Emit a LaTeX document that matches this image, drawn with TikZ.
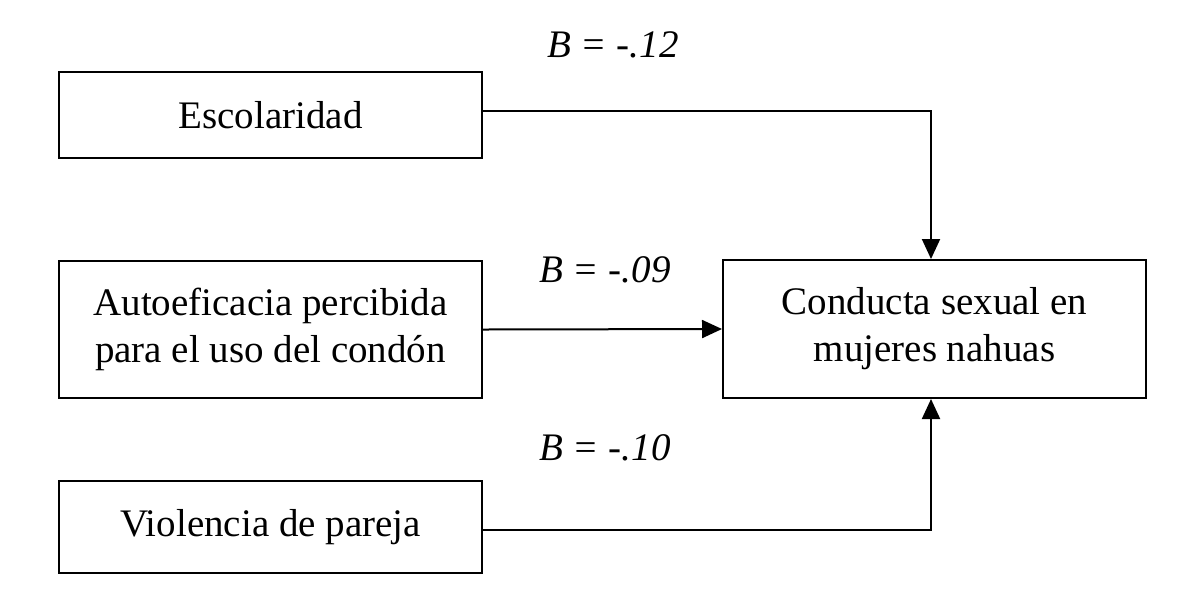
\documentclass[tikz,border=0pt]{standalone}
\usepackage{fontspec}
\setmainfont{Liberation Serif}
\usetikzlibrary{arrows.meta}
\tikzset{
  varbox/.style={draw=black, line width=1pt, rectangle, inner sep=0pt,
    minimum width=211.5pt, align=center,
    font=\fontsize{19.5}{23.5}\selectfont},
  coef/.style={font=\fontsize{19.5}{23.5}\selectfont\itshape, inner sep=0pt},
  link/.style={line width=1pt, -{Triangle[length=10pt,width=9pt]}}
}
\begin{document}
\begin{tikzpicture}[x=0.5pt,y=-0.5pt]
\useasboundingbox (0,0) rectangle (1181,596);
\node[varbox, minimum height=43pt] (esc) at (270.5,115) {Escolaridad};
\node[varbox, minimum height=68.5pt] (auto) at (270.5,329.5) {Autoeficacia percibida\\para el uso del condón};
\node[varbox, minimum height=46pt] (viol) at (270.5,527) {Violencia de pareja};
\node[varbox, minimum height=69pt] (cond) at (934.5,329) {Conducta sexual en\\mujeres nahuas};
\node[coef] (b1) at (613,45) {B = -.12};
\node[coef] (b2) at (605,270) {B = -.09};
\node[coef] (b3) at (605,448) {B = -.10};
\draw[link] ([yshift=2pt]esc.east) -| ([xshift=-1.75pt]cond.north);
\draw[link] (auto.east) -- (cond.west);
\draw[link] ([yshift=-1.5pt]viol.east) -| ([xshift=-1.75pt]cond.south);
\end{tikzpicture}
\end{document}
